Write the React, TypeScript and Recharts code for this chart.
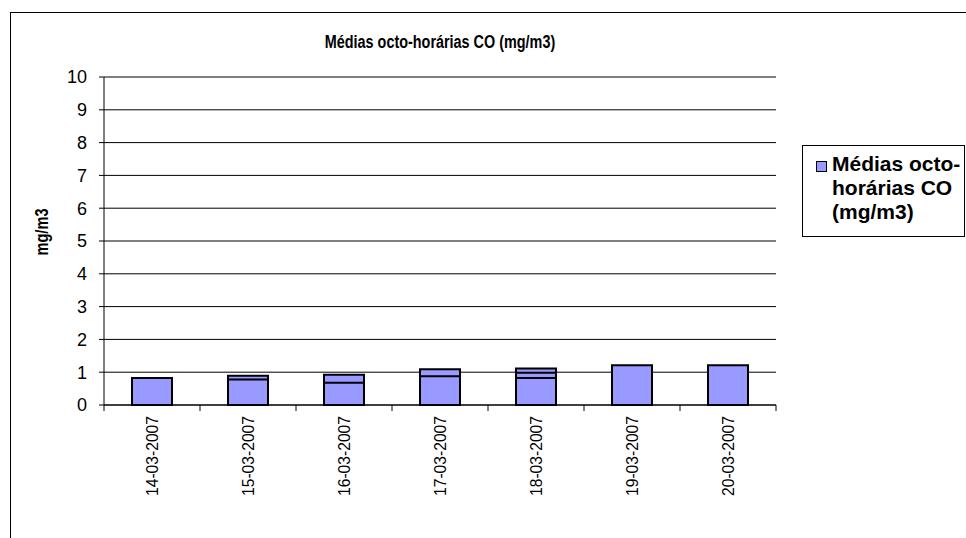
import React from "react";
import { BarChart, Bar, XAxis, YAxis, CartesianGrid, ReferenceLine } from "recharts";

// dias de medição
const datas = [
  "14-03-2007",
  "15-03-2007",
  "16-03-2007",
  "17-03-2007",
  "18-03-2007",
  "19-03-2007",
  "20-03-2007",
];

// três médias octo-horárias por dia (barras sobrepostas, maior atrás)
const mediaMaior = [0.82, 0.89, 0.92, 1.09, 1.11, 1.21, 1.21];
const mediaMeio = [null, 0.78, 0.68, 0.88, 0.98, null, null];
const mediaMenor = [null, null, null, null, 0.82, null, null];

const yTicks = [0, 1, 2, 3, 4, 5, 6, 7, 8, 9, 10];

const titulo = "Médias octo-horárias CO (mg/m3)";
const legendaLinhas = ["Médias octo-", "horárias CO", "(mg/m3)"];

const FONT = '"Liberation Sans", Arial, sans-serif';
const BAR_FILL = "#9999FF";
const HALF_BAND = 48;

const data = datas.map((d, i) => ({
  data: d,
  a: mediaMaior[i],
  b: mediaMeio[i],
  c: mediaMenor[i],
}));

function DateTick(props: any) {
  const { x, y, payload, index } = props;
  const last = index === datas.length - 1;
  return (
    <g>
      <line x1={x - HALF_BAND} y1={y} x2={x - HALF_BAND} y2={y + 6} stroke="#000" />
      {last && <line x1={x + HALF_BAND} y1={y} x2={x + HALF_BAND} y2={y + 6} stroke="#000" />}
      <text
        x={x}
        y={y + 11}
        transform={`rotate(-90, ${x}, ${y + 11})`}
        textAnchor="end"
        dy="0.35em"
        fontSize={17}
        textLength={80}
        lengthAdjust="spacingAndGlyphs"
        fontFamily={FONT}
        fill="#000"
      >
        {payload.value}
      </text>
    </g>
  );
}

function YLabel() {
  const cx = 42;
  const cy = 232;
  return (
    <text
      x={cx}
      y={cy}
      transform={`rotate(-90, ${cx}, ${cy})`}
      textAnchor="middle"
      dy="0.35em"
      fontSize={18}
      textLength={47}
      lengthAdjust="spacingAndGlyphs"
      fontWeight="bold"
      fontFamily={FONT}
      fill="#000"
    >
      mg/m3
    </text>
  );
}

export default function App() {
  return (
    <div
      style={{
        position: "absolute",
        left: 0,
        top: 0,
        width: 966,
        height: 538,
        overflow: "hidden",
        background: "#fff",
        fontFamily: FONT,
      }}
    >
      {/* moldura do gráfico (sai da imagem à direita e em baixo) */}
      <div
        style={{
          position: "absolute",
          left: 10,
          top: 12,
          width: 1000,
          height: 1000,
          border: "1px solid #000",
        }}
      />
      <div
        style={{
          position: "absolute",
          left: 0,
          top: 32,
          width: 880,
          textAlign: "center",
          fontWeight: "bold",
          fontSize: 18,
          transform: "scaleX(0.8)",
          transformOrigin: "440px 0",
          whiteSpace: "nowrap",
        }}
      >
        {titulo}
      </div>

      <div style={{ position: "absolute", left: 0, top: 0 }}>
        <BarChart
          width={966}
          height={538}
          data={data}
          margin={{ top: 77, right: 190, bottom: 0, left: 0 }}
        >
          <CartesianGrid vertical={false} stroke="#000" />
          <XAxis
            xAxisId="a"
            dataKey="data"
            interval={0}
            height={133}
            tickSize={0}
            tickMargin={0}
            tickLine={false}
            axisLine={{ stroke: "#000" }}
            tick={<DateTick />}
          />
          <XAxis xAxisId="b" dataKey="data" hide />
          <XAxis xAxisId="c" dataKey="data" hide />
          <YAxis
            domain={[0, 10]}
            ticks={yTicks}
            interval={0}
            width={104}
            tickSize={5}
            tickMargin={12}
            axisLine={{ stroke: "#000" }}
            tickLine={{ stroke: "#000" }}
            tick={{ fontSize: 18, fill: "#000", fontFamily: FONT }}
            label={<YLabel />}
          />
          <YAxis
            yAxisId="r"
            orientation="right"
            domain={[0, 10]}
            width={0}
            tick={false}
            tickLine={false}
            axisLine={{ stroke: "#808080" }}
          />
          <ReferenceLine xAxisId="a" y={10} stroke="#808080" />
          <Bar
            xAxisId="a"
            dataKey="a"
            barSize={40}
            fill={BAR_FILL}
            stroke="#000"
            strokeWidth={2}
            isAnimationActive={false}
          />
          <Bar
            xAxisId="b"
            dataKey="b"
            barSize={40}
            fill={BAR_FILL}
            stroke="#000"
            strokeWidth={2}
            isAnimationActive={false}
          />
          <Bar
            xAxisId="c"
            dataKey="c"
            barSize={40}
            fill={BAR_FILL}
            stroke="#000"
            strokeWidth={2}
            isAnimationActive={false}
          />
        </BarChart>
      </div>

      {/* legenda */}
      <div
        style={{
          position: "absolute",
          left: 802,
          top: 145,
          width: 161,
          height: 90,
          border: "1px solid #000",
          background: "#fff",
        }}
      >
        <div
          style={{
            position: "absolute",
            left: 13,
            top: 15,
            width: 9,
            height: 9,
            background: BAR_FILL,
            border: "1px solid #000",
          }}
        />
        <div
          style={{
            position: "absolute",
            left: 29,
            top: 6,
            fontWeight: "bold",
            fontSize: 21,
            lineHeight: "24px",
            whiteSpace: "nowrap",
          }}
        >
          {legendaLinhas.map((l) => (
            <div key={l}>{l}</div>
          ))}
        </div>
      </div>
    </div>
  );
}
